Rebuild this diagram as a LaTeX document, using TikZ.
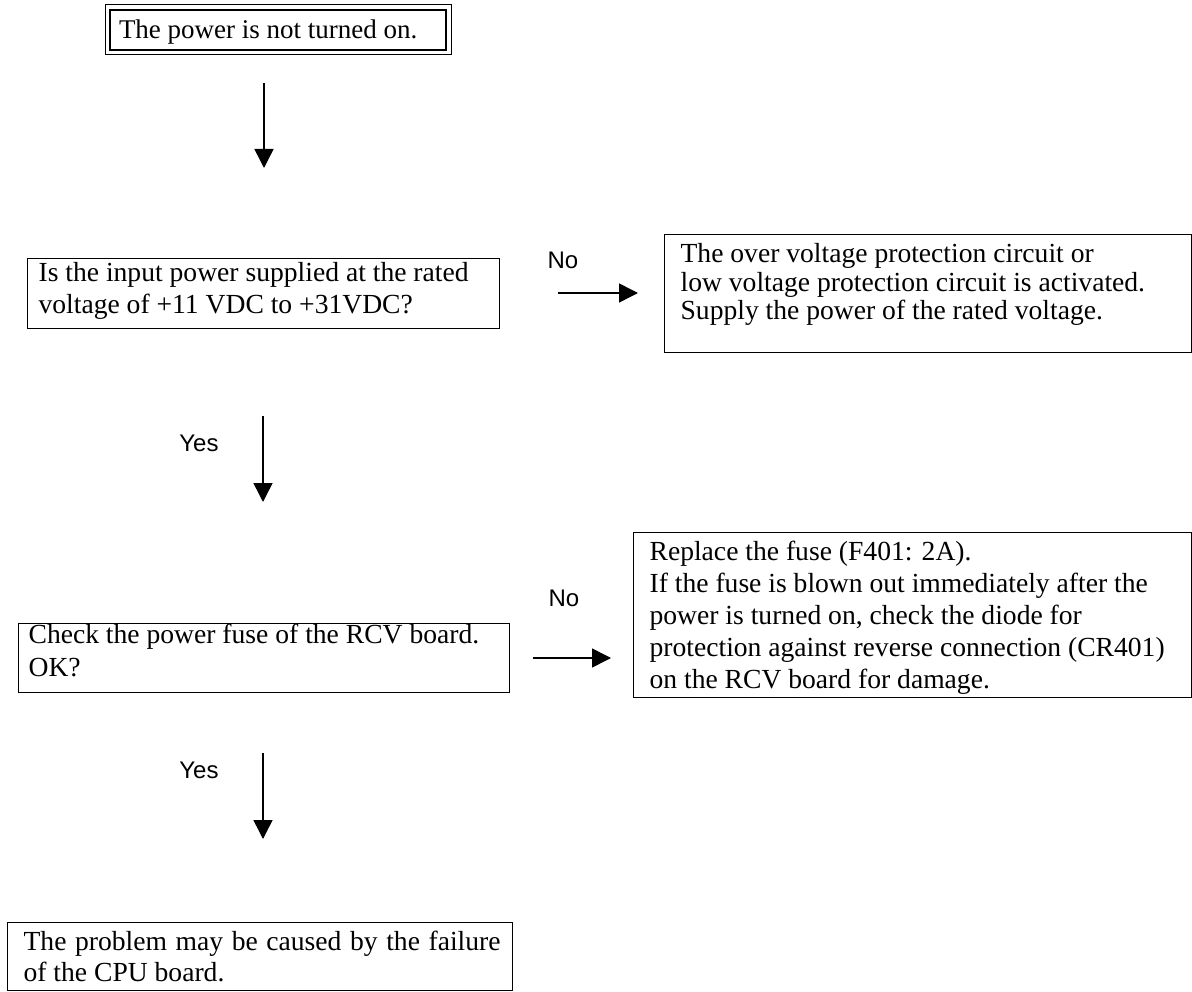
\documentclass[tikz,border=0pt]{standalone}
\usepackage{fontspec}
\setmainfont{Liberation Serif}
\newfontfamily\lsans{Liberation Sans}
\usetikzlibrary{arrows.meta}
% #1 left inset, #2 text width, #3 box height, #4 baselineskip, #5 top gap, #6 text
\newcommand{\bx}[6]{\hspace*{#1}\parbox[c][#3][t]{#2}{\fontsize{27.6}{#4}\selectfont\vspace*{#5}\rule{0pt}{20pt}#6}}
\tikzset{
  flowbox/.style={draw, line width=1.2pt, inner sep=0pt, anchor=north west},
  lbl/.style={font=\lsans\fontsize{24}{28}\selectfont, inner sep=0pt},
  arr/.style={line width=1.5pt, -{Triangle[width=19pt,length=19pt]}}
}
\begin{document}
\begin{tikzpicture}[x=1pt,y=-1pt]
\useasboundingbox (0,0) rectangle (1192,992);
% start box (double border)
\node[flowbox, line width=2pt] (top) at (109,9) {\bx{9pt}{327pt}{40pt}{32pt}{9pt}{\fontsize{27}{32}\selectfont The power is not turned on.}};
\draw[line width=1pt] ([shift={(-4pt,4pt)}]top.north west) rectangle ([shift={(4pt,-4pt)}]top.south east);
% question 1
\node[flowbox] (q1) at (27,258) {\bx{11pt}{461pt}{70pt}{32pt}{3pt}{Is the input power supplied at the rated\\voltage of +11 VDC to +31VDC?}};
\node[flowbox] (r1) at (664,234) {\bx{16pt}{511pt}{118pt}{28.5pt}{8pt}{The over voltage protection circuit or\\low voltage protection circuit is activated.\\Supply the power of the rated voltage.}};
% question 2
\node[flowbox] (q2) at (18,623) {\bx{10pt}{481pt}{69pt}{33pt}{0pt}{Check the power fuse of the RCV board.\\OK?}};
\node[flowbox] (r2) at (633,532) {\bx{16pt}{542pt}{165pt}{32pt}{8pt}{Replace the fuse (F401: 2A).\\If the fuse is blown out immediately after the\\power is turned on, check the diode for\\protection against reverse connection (CR401)\\on the RCV board for damage.}};
% end
\node[flowbox] (end) at (7,922) {\bx{16pt}{489pt}{68pt}{31pt}{8pt}{\makebox[477pt][s]{The problem may be caused by the failure}\\of the CPU board.}};
% labels
\node[lbl] (no1) at (563,260) {No};
\node[lbl] (no2) at (564,598) {No};
\node[lbl] (yes1) at (199,443) {Yes};
\node[lbl] (yes2) at (199,770) {Yes};
% connector end points
\coordinate (a1s) at (264,83);  \coordinate (a1e) at (264,168);
\coordinate (a2s) at (263,416); \coordinate (a2e) at (263,502);
\coordinate (a3s) at (263,753); \coordinate (a3e) at (263,839);
\coordinate (h1s) at (558,293); \coordinate (h1e) at (638,293);
\coordinate (h2s) at (533,658); \coordinate (h2e) at (611,658);
\draw[arr] (a1s) -- (a1e);
\draw[arr] (a2s) -- (a2e);
\draw[arr] (a3s) -- (a3e);
\draw[arr] (h1s) -- (h1e);
\draw[arr] (h2s) -- (h2e);
\end{tikzpicture}
\end{document}
